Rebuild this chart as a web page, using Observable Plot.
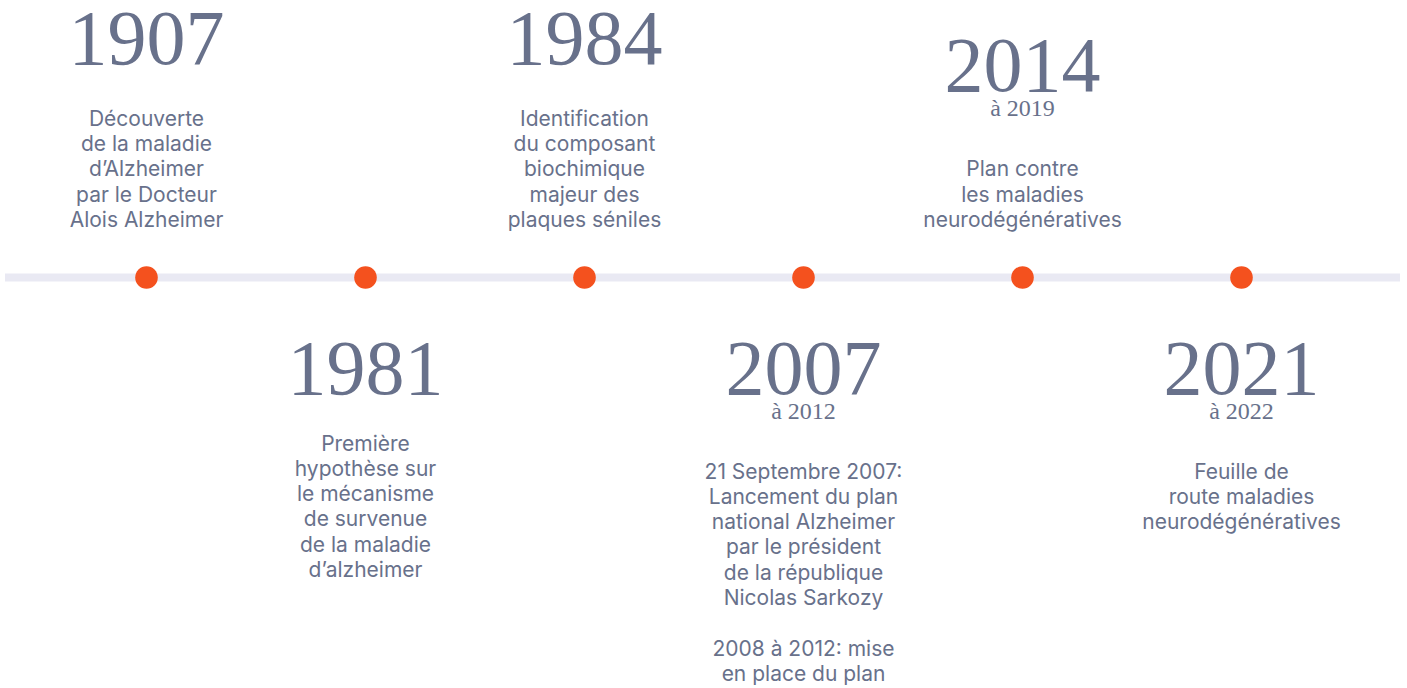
<!DOCTYPE html>
<html><head><meta charset="utf-8">
<script src="https://cdn.jsdelivr.net/npm/d3@7"></script>
<script src="https://cdn.jsdelivr.net/npm/@observablehq/plot@0.6"></script>
<style>html,body{margin:0;padding:0;background:#fff;overflow:hidden;}</style>
</head><body><div id="chart"></div>
<script>
// ---- data ----
const years = ["1907", "1981", "1984", "2007", "2014", "2021"];
const ranges = ["", "", "", "à 2012", "à 2019", "à 2022"];
const sides = ["up", "down", "up", "down", "up", "down"];
const descriptions = [
  "Découverte\nde la maladie\nd’Alzheimer\npar le Docteur\nAlois Alzheimer",
  "Première\nhypothèse sur\nle mécanisme\nde survenue\nde la maladie\nd’alzheimer",
  "Identification\ndu composant\nbiochimique\nmajeur des\nplaques séniles",
  "21 Septembre 2007:\nLancement du plan\nnational Alzheimer\npar le président\nde la république\nNicolas Sarkozy\n\n2008 à 2012: mise\nen place du plan",
  "Plan contre\nles maladies\nneurodégénératives",
  "Feuille de\nroute maladies\nneurodégénératives"
];

// ---- style / layout ----
const W = 1407, H = 688;
const ink = "#68718b";
const serif = "'Liberation Serif', 'DejaVu Serif', serif";
const sans = "Inter, 'Noto Sans', sans-serif";
const bodySize = 21, LH = 25.3, lineH = LH / bodySize;

const events = years.map((year, i) => ({
  year, range: ranges[i], side: sides[i], desc: descriptions[i],
  n: descriptions[i].split("\n").length
}));

// vertical layout, in pixels relative to the timeline (positive = down)
function layout(d) {
  if (d.side === "up") {
    const descBottom = -50.5;
    const descTop = descBottom - (d.n - 1) * LH;
    if (d.range) {
      const sub = descTop - 60;
      return {year: sub - 25, sub, descTop, descBottom};
    }
    return {year: descTop - 62, sub: null, descTop, descBottom};
  } else {
    const year = 116;
    if (d.range) {
      const sub = year + 25;
      return {year, sub, descTop: sub + 60};
    }
    return {year, sub: null, descTop: year + 57};
  }
}
events.forEach(d => Object.assign(d, {L: layout(d)}));

const up = events.filter(d => d.side === "up");
const down = events.filter(d => d.side === "down");
const withSub = events.filter(d => d.range);

const chart = Plot.plot({
  width: W, height: H,
  marginTop: 0, marginBottom: 0, marginLeft: 5, marginRight: 7,
  x: {type: "point", domain: years, range: [144, 1243], padding: 0, axis: null},
  y: {type: "linear", domain: [-277, H - 277], range: [0, H], axis: null},
  style: {background: "#fff"},
  marks: [
    Plot.ruleY([0], {stroke: "#e9e9f3", strokeWidth: 8}),
    Plot.dot(events, {x: "year", y: () => 0, r: 11.3, fill: "#f4511e", stroke: null}),
    // years (baseline anchored)
    Plot.text(events, {x: "year", y: d => d.L.year, text: "year", lineAnchor: "bottom",
      fontSize: 78, fontFamily: serif, fill: ink, textAnchor: "middle"}),
    // range subtitles
    Plot.text(withSub, {x: "year", y: d => d.L.sub, text: "range", lineAnchor: "bottom",
      fontSize: 24, fontFamily: serif, fill: ink, textAnchor: "middle"}),
    // descriptions above line: last baseline anchored
    Plot.text(up, {x: "year", y: d => d.L.descBottom, text: "desc", lineAnchor: "bottom",
      lineHeight: lineH, fontSize: bodySize, fontFamily: sans, fill: ink, textAnchor: "middle"}),
    // descriptions below line: first baseline anchored (top anchor puts baseline 0.71 line below)
    Plot.text(down, {x: "year", y: d => d.L.descTop - 0.71 * LH, text: "desc", lineAnchor: "top",
      lineHeight: lineH, fontSize: bodySize, fontFamily: sans, fill: ink, textAnchor: "middle"})
  ]
});
document.getElementById("chart").appendChild(chart);
</script>
</body></html>
